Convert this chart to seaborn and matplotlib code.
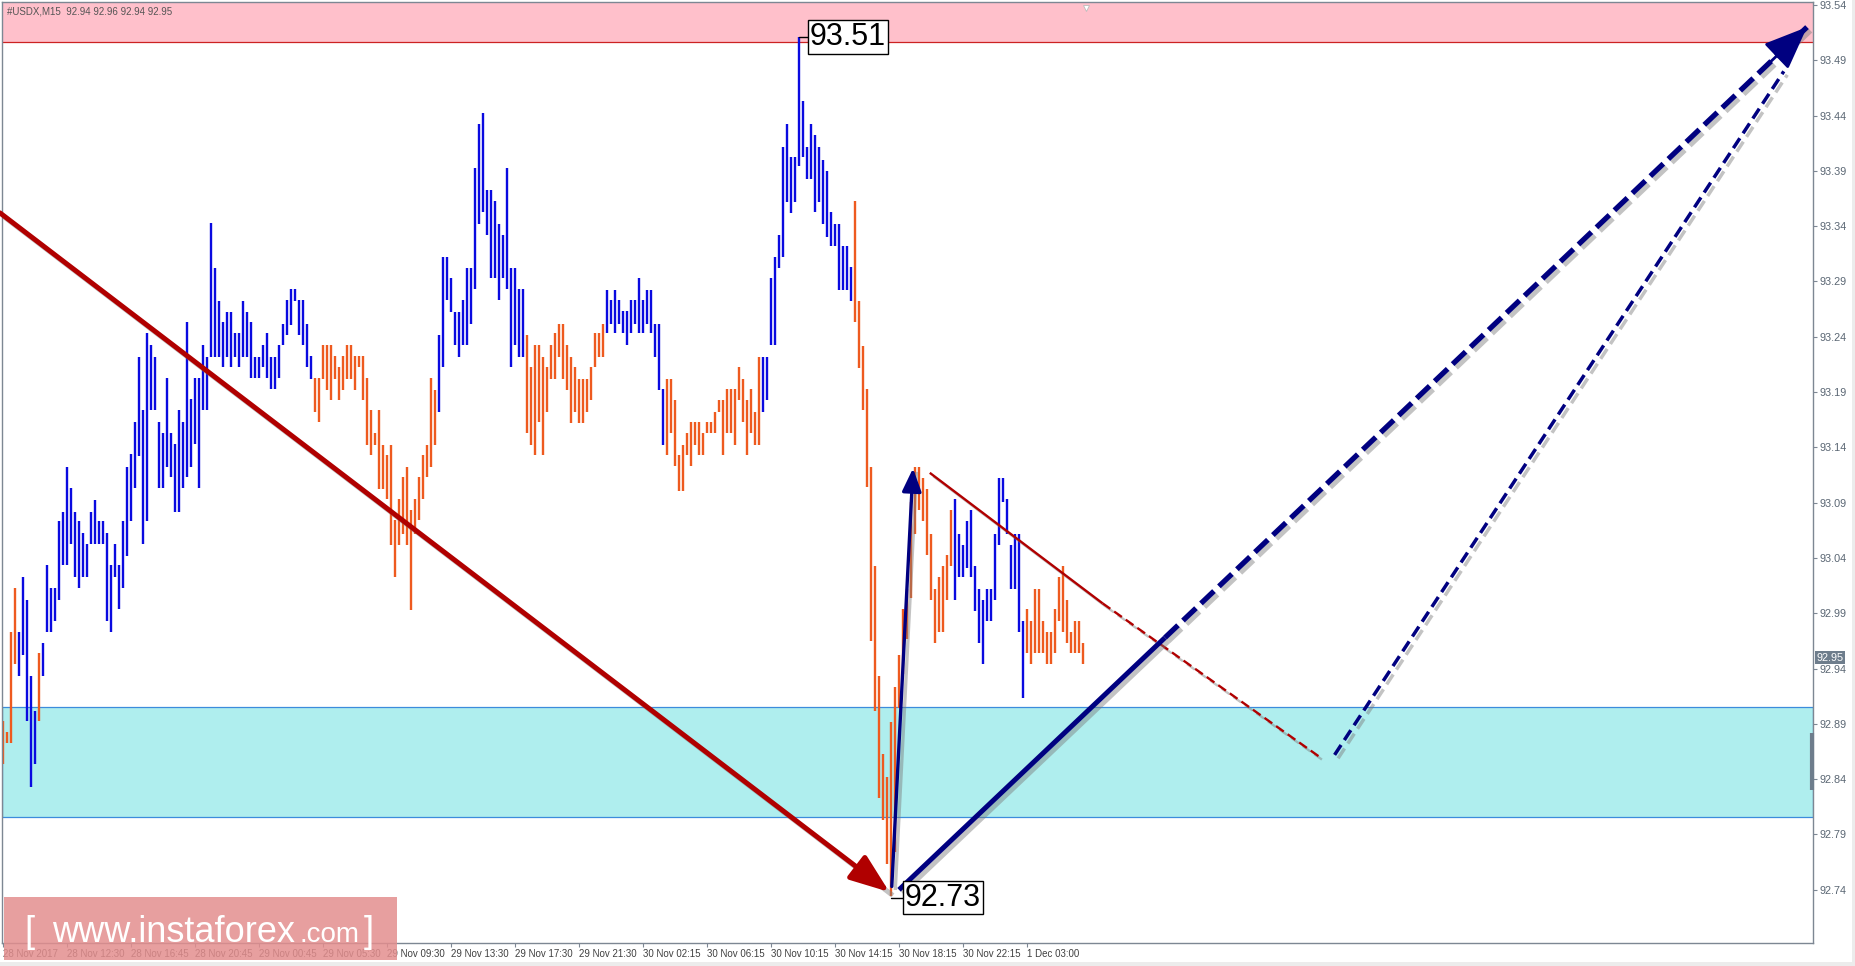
import numpy as np
import pandas as pd
import seaborn as sns
import matplotlib
matplotlib.use("Agg")
import matplotlib.pyplot as plt
import matplotlib.patheffects as pe
from matplotlib.patches import Rectangle

# USDX M15 bars (index 0 = first bar shown)
bar_high = [
    92.893, 92.883, 92.973, 93.013, 92.973, 93.023, 93.002, 92.933, 92.902, 92.954,
    92.963, 93.034, 93.013, 93.013, 93.073, 93.082, 93.122, 93.103, 93.082, 93.073,
    93.063, 93.053, 93.082, 93.092, 93.073, 93.073, 93.063, 93.034, 93.053, 93.034,
    93.073, 93.122, 93.134, 93.163, 93.222, 93.174, 93.243, 93.233, 93.222, 93.163,
    93.153, 93.203, 93.153, 93.143, 93.174, 93.163, 93.253, 93.184, 93.203, 93.203,
    93.233, 93.222, 93.343, 93.302, 93.272, 93.253, 93.262, 93.262, 93.243, 93.243,
    93.272, 93.262, 93.253, 93.222, 93.222, 93.233, 93.243, 93.222, 93.222, 93.233,
    93.252, 93.273, 93.283, 93.283, 93.273, 93.273, 93.252, 93.223, 93.203, 93.203,
    93.233, 93.233, 93.233, 93.223, 93.213, 93.223, 93.233, 93.233, 93.223, 93.223,
    93.223, 93.203, 93.174, 93.153, 93.174, 93.142, 93.133, 93.142, 93.074, 93.093,
    93.113, 93.122, 93.083, 93.093, 93.113, 93.133, 93.142, 93.203, 93.192, 93.242,
    93.312, 93.312, 93.293, 93.262, 93.262, 93.273, 93.302, 93.302, 93.393, 93.432,
    93.442, 93.373, 93.373, 93.363, 93.342, 93.332, 93.393, 93.302, 93.302, 93.283,
    93.283, 93.242, 93.213, 93.233, 93.233, 93.222, 93.213, 93.233, 93.243, 93.252,
    93.252, 93.233, 93.222, 93.213, 93.202, 93.202, 93.202, 93.213, 93.243, 93.243,
    93.252, 93.282, 93.273, 93.282, 93.273, 93.263, 93.263, 93.273, 93.273, 93.293,
    93.273, 93.282, 93.282, 93.252, 93.252, 93.193, 93.202, 93.202, 93.183, 93.133,
    93.142, 93.153, 93.163, 93.163, 93.163, 93.153, 93.163, 93.163, 93.172, 93.183,
    93.183, 93.193, 93.193, 93.193, 93.213, 93.202, 93.183, 93.193, 93.172, 93.222,
    93.222, 93.222, 93.293, 93.312, 93.332, 93.412, 93.432, 93.403, 93.403, 93.511,
    93.453, 93.412, 93.432, 93.422, 93.412, 93.400, 93.390, 93.353, 93.342, 93.342,
    93.322, 93.322, 93.303, 93.363, 93.272, 93.232, 93.193, 93.122, 93.033, 92.933,
    92.863, 92.842, 92.892, 92.923, 92.952, 92.994, 93.012, 93.091, 93.122, 93.122,
    93.112, 93.102, 93.062, 93.012, 93.023, 93.033, 93.043, 93.083, 93.093, 93.062,
    93.052, 93.073, 93.083, 93.033, 93.012, 93.002, 93.012, 93.012, 93.062, 93.112,
    93.112, 93.093, 93.052, 93.062, 93.062, 92.983, 92.994, 92.983, 93.012, 93.012,
    92.983, 92.973, 92.973, 92.994, 93.023, 93.033, 93.002, 92.973, 92.983, 92.983,
    92.963,
]
bar_low = [
    92.854, 92.873, 92.873, 92.944, 92.933, 92.952, 92.893, 92.833, 92.854, 92.893,
    92.933, 92.973, 92.973, 92.983, 93.002, 93.034, 93.034, 93.053, 93.023, 93.013,
    93.023, 93.023, 93.053, 93.053, 93.053, 93.053, 92.983, 92.973, 93.023, 92.994,
    93.013, 93.042, 93.073, 93.103, 93.132, 93.053, 93.073, 93.174, 93.174, 93.103,
    93.103, 93.122, 93.113, 93.082, 93.082, 93.103, 93.113, 93.122, 93.143, 93.103,
    93.174, 93.174, 93.222, 93.222, 93.222, 93.213, 93.222, 93.213, 93.222, 93.213,
    93.222, 93.222, 93.203, 93.203, 93.203, 93.213, 93.203, 93.193, 93.193, 93.203,
    93.233, 93.242, 93.251, 93.272, 93.242, 93.233, 93.213, 93.202, 93.172, 93.163,
    93.202, 93.192, 93.183, 93.202, 93.183, 93.192, 93.202, 93.202, 93.192, 93.213,
    93.183, 93.142, 93.133, 93.142, 93.102, 93.102, 93.093, 93.052, 93.023, 93.052,
    93.062, 93.052, 92.993, 93.062, 93.074, 93.093, 93.113, 93.122, 93.142, 93.172,
    93.213, 93.273, 93.262, 93.233, 93.222, 93.233, 93.233, 93.252, 93.283, 93.342,
    93.353, 93.332, 93.293, 93.293, 93.273, 93.293, 93.283, 93.213, 93.233, 93.222,
    93.222, 93.153, 93.142, 93.133, 93.163, 93.133, 93.172, 93.202, 93.202, 93.222,
    93.202, 93.192, 93.162, 93.172, 93.162, 93.162, 93.172, 93.183, 93.213, 93.222,
    93.222, 93.243, 93.252, 93.243, 93.252, 93.243, 93.233, 93.243, 93.252, 93.243,
    93.243, 93.252, 93.243, 93.222, 93.192, 93.142, 93.133, 93.153, 93.123, 93.101,
    93.101, 93.133, 93.123, 93.142, 93.133, 93.133, 93.153, 93.153, 93.153, 93.172,
    93.133, 93.153, 93.153, 93.142, 93.183, 93.163, 93.133, 93.153, 93.142, 93.142,
    93.172, 93.183, 93.233, 93.233, 93.302, 93.312, 93.362, 93.352, 93.362, 93.394,
    93.403, 93.383, 93.383, 93.353, 93.362, 93.342, 93.330, 93.322, 93.322, 93.282,
    93.282, 93.282, 93.272, 93.253, 93.212, 93.174, 93.104, 92.965, 92.902, 92.823,
    92.803, 92.763, 92.734, 92.774, 92.904, 92.935, 92.967, 93.004, 93.062, 93.083,
    93.073, 93.043, 93.002, 92.963, 92.973, 92.973, 93.002, 93.033, 93.002, 93.023,
    93.023, 93.031, 93.023, 92.992, 92.963, 92.944, 92.983, 92.983, 93.002, 93.052,
    93.091, 93.062, 93.012, 93.012, 92.973, 92.913, 92.954, 92.944, 92.954, 92.954,
    92.954, 92.944, 92.944, 92.954, 92.983, 92.973, 92.963, 92.954, 92.954, 92.954,
    92.944,
]
# bar colouring from the wave indicator, as runs of bars
run_labels = ['down', 'up', 'down', 'up', 'down', 'up', 'down', 'up', 'down', 'up', 'down', 'up', 'down']
run_lengths = [4, 5, 1, 68, 31, 22, 20, 15, 24, 23, 25, 18, 15]

time_ticks = [0, 16, 32, 48, 64, 80, 96, 112, 128, 144, 160, 176, 192, 208, 224, 240, 256]
time_labels = ['28 Nov 2017', '28 Nov 12:30', '28 Nov 16:45', '28 Nov 20:45', '29 Nov 00:45',
               '29 Nov 05:30', '29 Nov 09:30', '29 Nov 13:30', '29 Nov 17:30', '29 Nov 21:30',
               '30 Nov 02:15', '30 Nov 06:15', '30 Nov 10:15', '30 Nov 14:15', '30 Nov 18:15',
               '30 Nov 22:15', '1 Dec 03:00']
price_ticks = [92.74, 92.79, 92.84, 92.89, 92.94, 92.99, 93.04, 93.09, 93.14,
               93.19, 93.24, 93.29, 93.34, 93.39, 93.44, 93.49, 93.54]

resistance_zone = [93.5065, 93.60]
support_zone = [92.806, 92.905]
last_price = 92.95
axis_marker = [92.830, 92.882]
header = '#USDX,M15  92.94 92.96 92.94 92.95'

# wave drawings as (bar, price)
bear_wave = [(-0.75, 93.352), (221.6, 92.738)]
impulse_wave = [(222.2, 92.743), (227.5, 93.121)]
forecast_solid = [(224.0, 92.740), (290.5, 92.968)]
forecast_dash = [(290.5, 92.968), (451.0, 93.520)]
triangle_solid = [(231.7, 93.117), (274.9, 92.999)]
triangle_dash = [(274.9, 92.999), (329.6, 92.859)]
alt_dash = [(332.9, 92.862), (445.2, 93.480)]
peak = (199, 93.511, '93.51')
trough = (222, 92.733, '92.73')

W, H = 1855, 966

sns.set_theme(style='white')
plt.rcParams['font.family'] = ['Liberation Sans', 'DejaVu Sans']

trend = np.repeat(run_labels, run_lengths)
n = len(bar_high)
bars = pd.DataFrame({
    'bar': np.concatenate([np.arange(n), np.arange(n)]),
    'price': np.concatenate([bar_low, bar_high]),
    'trend': np.concatenate([trend, trend]),
})

fig = plt.figure(figsize=(W / 100, H / 100), dpi=100)
ax = fig.add_axes([2 / W, 23 / H, 1811 / W, 941 / H])
ax.set_xlim(-0.25, 452.5)
ax.set_ylim(92.6919, 93.5427)

# zones
ax.axhspan(*resistance_zone, facecolor='#FFC0CB', edgecolor='none', zorder=0)
ax.axhline(resistance_zone[0], color='#CC2222', lw=0.9, zorder=0.5)
ax.axhspan(*support_zone, facecolor='#AFEEEE', edgecolor='#3C8CDC', lw=0.9, zorder=0)

# the bars
sns.lineplot(data=bars, x='bar', y='price', hue='trend', units='bar', estimator=None,
             palette={'up': '#0A0AE0', 'down': '#EE5A1F'}, linewidth=1.7, legend=False,
             sort=False, solid_capstyle='butt', ax=ax, zorder=2)

shadow = pe.SimpleLineShadow(offset=(2.5, -2.5), shadow_color='#7a7a7a', alpha=0.45)


def seg_xy(seg):
    return [p[0] for p in seg], [p[1] for p in seg]


def arrow(seg, color, lw, hl, hw, scale):
    xs, ys = seg_xy(seg)
    ax.plot(xs, ys, color=color, lw=lw, solid_capstyle='butt', path_effects=[shadow], zorder=3)
    ax.annotate('', xy=seg[1], xytext=seg[0],
                arrowprops=dict(arrowstyle=f'-|>,head_length={hl},head_width={hw}', color=color,
                                lw=lw, mutation_scale=scale, shrinkA=0, shrinkB=0), zorder=4)


def line(seg, color, lw, dashes=None):
    xs, ys = seg_xy(seg)
    kw = dict(color=color, lw=lw, solid_capstyle='butt', dash_capstyle='butt',
              path_effects=[shadow, pe.Normal()], zorder=3)
    if dashes:
        kw['dashes'] = dashes
    ax.plot(xs, ys, **kw)


navy = '#000080'
red = '#B00000'
arrow(bear_wave, red, 3.6, 1.2, 0.45, 20)
line(triangle_solid, red, 1.7)
line(triangle_dash, red, 1.7, dashes=(4, 2))
line(alt_dash, navy, 2.5, dashes=(3.4, 1.7))
line(forecast_solid, navy, 3.6)
line(forecast_dash, navy, 3.8, dashes=(3.4, 1.3))
arrow(impulse_wave, navy, 2.4, 1.0, 0.42, 14)
# big head on the forecast arrow
(fx0, fy0), (fx1, fy1) = forecast_dash
ax.annotate('', xy=(fx1, fy1), xytext=(fx1 - 0.06 * (fx1 - fx0), fy1 - 0.06 * (fy1 - fy0)),
            arrowprops=dict(arrowstyle='-|>,head_length=1.35,head_width=0.55', color=navy, lw=2,
                            mutation_scale=20, shrinkA=0, shrinkB=0), zorder=4)

# extreme labels
for (bx, by, txt), off in [(peak, 2.3), (trough, 3.0)]:
    ax.plot([bx, bx + off], [by, by], color='black', lw=1, zorder=5)
    ax.text(bx + off + 0.4, by, txt, fontsize=22, color='black', ha='left', va='center', zorder=6,
            bbox=dict(boxstyle='square,pad=0.06', fc='white', ec='black', lw=1))

# last bar shift marker
ax.plot(270.8, 93.537, marker='v', ms=5, color='white', mec='#bbbbbb', mew=0.6, zorder=5, clip_on=False)

# axes styling
for s in ax.spines.values():
    s.set_color('#7d8793')
    s.set_linewidth(1)
ax.yaxis.tick_right()
ax.set_yticks(price_ticks)
ax.set_yticklabels([f'{p:.2f}' for p in price_ticks])
ax.set_xticks(time_ticks)
ax.set_xticklabels(time_labels)
for lab in ax.get_xticklabels():
    lab.set_horizontalalignment('left')
ax.tick_params(axis='x', direction='out', length=3, width=0.8, color='#7d8793', pad=1.5,
               labelsize=7, labelcolor='#404040', bottom=True)
ax.tick_params(axis='y', direction='out', length=3, width=0.8, color='#7d8793', pad=1.5,
               labelsize=7.8, labelcolor='#5a6673', right=True, left=False)
ax.set_xlabel('')
ax.set_ylabel('')
ax.grid(False)

# price tag and axis marker
ytr = ax.get_yaxis_transform()
ax.text(1.0018, last_price, f'{last_price:.2f}', transform=ytr, ha='left', va='center', color='white',
        fontsize=7.8, zorder=10, clip_on=False,
        bbox=dict(boxstyle='square,pad=0.12', fc='#6e7d8c', ec='none'))
ax.plot([0.9995, 0.9995], axis_marker, transform=ytr, lw=3, color='#6e7d8c', solid_capstyle='butt',
        clip_on=False, zorder=10)

# header
fig.text(7 / W, 1 - 12 / H, header, fontsize=7, color='#555555', ha='left', va='center')

# watermark
fig.add_artist(Rectangle((4 / W, 6 / H), 393 / W, 63 / H, transform=fig.transFigure,
                         facecolor='#E38E8E', alpha=0.85, edgecolor='none', zorder=5))
base = 24 / H
fig.text(24 / W, base, '[', fontsize=26, color='white', va='baseline', zorder=6)
fig.text(52 / W, base, 'www.instaforex', fontsize=26, color='white', va='baseline', zorder=6)
fig.text(300 / W, base, '.com', fontsize=20, color='white', va='baseline', zorder=6)
fig.text(364 / W, base, ']', fontsize=26, color='white', va='baseline', zorder=6)

# window edges
fig.add_artist(Rectangle((0, 0), 1, 4 / H, transform=fig.transFigure, facecolor='#ECECEC',
                         edgecolor='none', zorder=4))
fig.add_artist(Rectangle((1852 / W, 0), 3 / W, 1, transform=fig.transFigure, facecolor='#ECECEC',
                         edgecolor='none', zorder=4))

fig.savefig('out.png', dpi=100)
